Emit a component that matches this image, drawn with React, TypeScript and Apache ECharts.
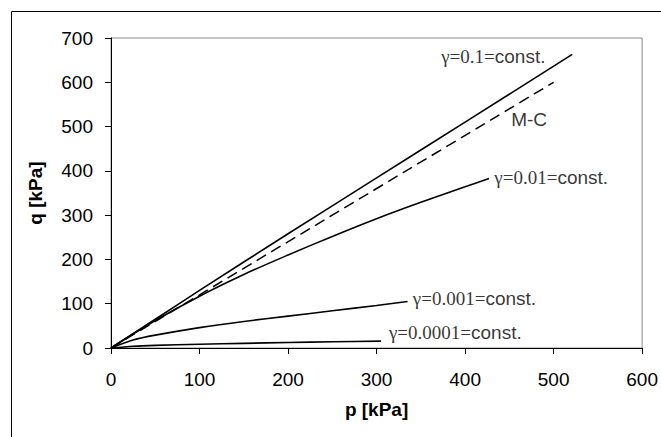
import React, { useEffect, useRef } from "react";
import * as echarts from "echarts";

const xTicks = [0, 100, 200, 300, 400, 500, 600];
const yTicks = [0, 100, 200, 300, 400, 500, 600, 700];

const gamma01: [number, number][] = [
  [0, 0], [50, 65], [100, 130], [200, 258], [300, 384], [400, 510], [521, 663],
];
const mohrCoulomb: [number, number][] = [
  [0, 0], [500, 600],
];
const gamma001: [number, number][] = [
  [0, 0], [50, 62], [100, 117], [150, 166], [200, 210], [250, 252], [300, 292], [350, 329], [400, 364], [427, 383],
];
const gamma0001: [number, number][] = [
  [0, 0], [25, 18], [50, 29], [100, 46], [150, 60], [200, 72], [250, 84], [300, 96], [335, 105],
];
const gamma00001: [number, number][] = [
  [0, 0], [25, 4], [50, 6], [100, 8.5], [150, 10.5], [200, 12.5], [250, 14], [305, 15.5],
];

// annotation texts: [p, q, serif part, sans part]
const annotations: [number, number, string, string][] = [
  [373, 659, "γ=0.1=", "const."],
  [452, 515, "", "M-C"],
  [433, 384, "γ=0.01=", "const."],
  [341, 111, "γ=0.001=", "const."],
  [314, 36, "γ=0.0001=", "const."],
];

const SANS = "'Liberation Sans', Arial, sans-serif";
const SERIF = "'Liberation Serif', 'Times New Roman', serif";

export default function App() {
  const ref = useRef<HTMLDivElement>(null);
  useEffect(() => {
    if (!ref.current) return;
    const chart = echarts.init(ref.current, undefined, { renderer: "svg" });
    const lineStyle = { color: "#000", width: 1.6 };
    const mkLine = (name: string, data: [number, number][], dashed = false) => ({
      name,
      type: "line",
      data,
      showSymbol: false,
      symbol: "none",
      smooth: 0.3,
      lineStyle: dashed ? { ...lineStyle, width: 1.5, type: [11, 6] } : lineStyle,
    });
    chart.setOption({
      animation: false,
      backgroundColor: "#fff",
      grid: {
        left: 111,
        right: 18,
        top: 38,
        bottom: 89,
        show: true,
        borderColor: "#8c8c8c",
        borderWidth: 1,
        backgroundColor: "transparent",
      },
      xAxis: {
        type: "value",
        min: xTicks[0],
        max: xTicks[xTicks.length - 1],
        interval: 100,
        name: "p [kPa]",
        nameLocation: "middle",
        nameGap: 52,
        nameTextStyle: { fontFamily: SANS, fontWeight: "bold", fontSize: 19, color: "#000" },
        axisLine: { show: true, onZero: false, lineStyle: { color: "#000", width: 1 } },
        axisTick: { show: true, inside: false, length: 6, lineStyle: { color: "#000" } },
        axisLabel: { fontFamily: SANS, fontSize: 19, color: "#000", margin: 22 },
        splitLine: { show: false },
      },
      yAxis: {
        type: "value",
        min: yTicks[0],
        max: yTicks[yTicks.length - 1],
        interval: 100,
        name: "q [kPa]",
        nameLocation: "middle",
        nameGap: 66,
        nameRotate: 90,
        nameTextStyle: { fontFamily: SANS, fontWeight: "bold", fontSize: 19, color: "#000" },
        axisLine: { show: true, onZero: false, lineStyle: { color: "#000", width: 1 } },
        axisTick: { show: true, inside: false, length: 6, lineStyle: { color: "#000" } },
        axisLabel: { fontFamily: SANS, fontSize: 19, color: "#000", margin: 18 },
        splitLine: { show: false },
      },
      series: [
        mkLine("γ=0.1", gamma01),
        mkLine("M-C", mohrCoulomb, true),
        mkLine("γ=0.01", gamma001),
        mkLine("γ=0.001", gamma0001),
        mkLine("γ=0.0001", gamma00001),
        {
          name: "labels",
          type: "scatter",
          symbolSize: 0,
          silent: true,
          data: annotations.map((a) => ({ value: [a[0], a[1]], serif: a[2], sans: a[3] })),
          label: {
            show: true,
            position: "right",
            distance: 0,
            formatter: (p: any) => {
              const d = p.data;
              return (d.serif ? `{s|${d.serif}}` : "") + `{a|${d.sans}}`;
            },
            rich: {
              s: { fontFamily: SERIF, fontSize: 19, color: "#000" },
              a: { fontFamily: SANS, fontSize: 19, color: "#000" },
            },
          },
        },
      ],
      graphic: [
        {
          type: "rect",
          shape: { x: 11.5, y: 11.5, width: 800, height: 600 },
          style: { fill: "none", stroke: "#000", lineWidth: 1 },
          silent: true,
          z: -1,
        },
      ],
    });
    return () => chart.dispose();
  }, []);
  return (
    <div
      ref={ref}
      style={{ position: "fixed", left: 0, top: 0, width: 661, height: 437, background: "#fff" }}
    />
  );
}
